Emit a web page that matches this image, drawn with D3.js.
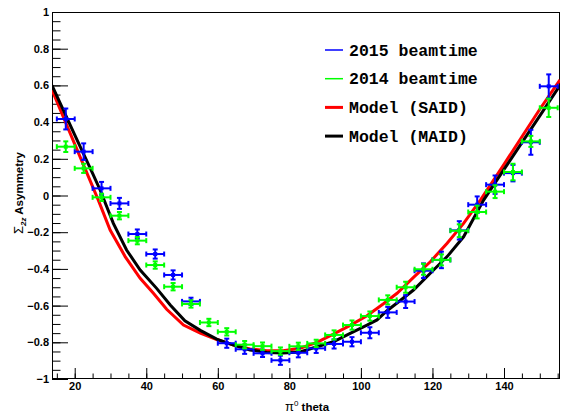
<!DOCTYPE html>
<html>
<head>
<meta charset="utf-8">
<script src="https://cdn.jsdelivr.net/npm/d3@7"></script>
<style>
  body { margin: 0; background: #fff; }
  svg { display: block; }
</style>
</head>
<body>
<svg id="chart" width="561" height="412"></svg>
<script>
// pi0 beam asymmetry vs. pi0 polar angle
const thetaBins = [17.5, 22.5, 27.5, 32.5, 37.5, 42.5, 47.5, 52.5, 57.5, 62.5, 67.5, 72.5, 77.5, 82.5,
  87.5, 92.5, 97.5, 102.5, 107.5, 112.5, 117.5, 122.5, 127.5, 132.5, 137.5, 142.5, 147.5, 152.5];
const binHalfWidth = 2.5;

const values2015 = [0.417, 0.239, 0.039, -0.043, -0.21, -0.319, -0.433, -0.577, null, -0.805, -0.838, -0.86, -0.898, -0.857,
  -0.833, -0.809, -0.797, -0.748, -0.637, -0.578, -0.41, -0.351, -0.19, -0.05, 0.059, 0.122, 0.29, 0.595];
const errors2015 = [0.057, 0.045, 0.035, 0.03, 0.025, 0.025, 0.025, 0.02, null, 0.025, 0.025, 0.02, 0.025, 0.025,
  0.025, 0.025, 0.025, 0.03, 0.03, 0.035, 0.04, 0.045, 0.05, 0.045, 0.05, 0.045, 0.068, 0.065];

const values2014 = [0.266, 0.148, -0.01, -0.11, -0.246, -0.379, -0.497, -0.591, -0.692, -0.743, -0.813, -0.821, -0.848, -0.822,
  -0.806, -0.76, -0.706, -0.657, -0.569, -0.5, -0.402, -0.351, -0.192, -0.09, 0.021, 0.128, 0.295, 0.478];
const errors2014 = [0.029, 0.025, 0.02, 0.02, 0.02, 0.02, 0.02, 0.02, 0.02, 0.02, 0.02, 0.02, 0.02, 0.02,
  0.02, 0.025, 0.025, 0.025, 0.025, 0.03, 0.03, 0.03, 0.035, 0.035, 0.035, 0.045, 0.03, 0.05];

const saidTheta = [13.65, 20, 26.6, 29.9, 34.1, 38.3, 42.0, 45.7, 50.4, 55.1, 59.7, 64.4, 69.0, 73.7, 78.3, 83.0,
  87.7, 92.3, 97.0, 101.7, 106.3, 110.1, 114.7, 119.4, 124.1, 128.7, 133.4, 140, 145, 150, 155.65];
const saidValues = [0.575, 0.28, -0.025, -0.188, -0.333, -0.451, -0.533, -0.62, -0.706, -0.75, -0.785, -0.815, -0.836, -0.846, -0.846, -0.832,
  -0.80, -0.755, -0.708, -0.655, -0.59, -0.533, -0.446, -0.361, -0.26, -0.152, -0.025, 0.17, 0.32, 0.47, 0.63];

const maidTheta = [13.65, 20, 25, 27.1, 30.8, 34.5, 38.3, 42.9, 46.7, 50.8, 55.1, 59.7, 64.4, 69.0, 73.7, 78.3, 83.0,
  87.7, 92.3, 97.0, 101.7, 104.5, 107.3, 111.0, 114.7, 119.4, 124.1, 128.7, 134.3, 140, 145, 150, 155.65];
const maidValues = [0.60, 0.33, 0.12, 0.03, -0.152, -0.297, -0.406, -0.506, -0.597, -0.683, -0.735, -0.783, -0.815, -0.842, -0.855, -0.858, -0.853,
  -0.824, -0.797, -0.751, -0.706, -0.678, -0.628, -0.572, -0.515, -0.424, -0.333, -0.225, -0.025, 0.142, 0.288, 0.434, 0.60];

const xTicks = [20, 40, 60, 80, 100, 120, 140];
const xMinorTicks = d3.range(15, 156, 5);
const yTicks = [-1, -0.8, -0.6, -0.4, -0.2, 0, 0.2, 0.4, 0.6, 0.8, 1];
const yMinorTicks = d3.range(-1, 1.001, 0.05);

const legendLabels = ["2015 beamtime", "2014 beamtime", "Model (SAID)", "Model (MAID)"];
const legendColors = ["#0000ff", "#00ff00", "#ff0000", "#000000"];

const width = 561, height = 412;
const margin = { top: 12, right: 1, bottom: 33, left: 52 };

const svg = d3.select("#chart");

const x = d3.scaleLinear().domain([13.65, 155.65]).range([margin.left, width - margin.right]);
const y = d3.scaleLinear().domain([-1, 1]).range([height - margin.bottom, margin.top]);

svg.append("defs").append("clipPath").attr("id", "frame")
  .append("rect")
  .attr("x", margin.left).attr("y", margin.top)
  .attr("width", width - margin.left - margin.right)
  .attr("height", height - margin.top - margin.bottom);

// frame
svg.append("rect")
  .attr("x", margin.left + 0.5).attr("y", margin.top + 0.5)
  .attr("width", width - margin.left - margin.right - 1)
  .attr("height", height - margin.top - margin.bottom - 1)
  .attr("fill", "none").attr("stroke", "#000").attr("stroke-width", 1);

const tickFont = "'Liberation Sans', Arial, sans-serif";

// x axis
const gx = svg.append("g").attr("transform", `translate(0,${height - margin.bottom})`);
gx.call(d3.axisBottom(x).tickValues(xMinorTicks).tickFormat("").tickSize(-5.5));
gx.append("g").call(d3.axisBottom(x).tickValues(xTicks).tickSize(-11).tickPadding(3));
gx.selectAll(".domain").remove();
gx.selectAll("text").attr("font-family", tickFont).attr("font-weight", "bold").attr("font-size", 11).attr("fill", "#000");

// y axis
const gy = svg.append("g").attr("transform", `translate(${margin.left},0)`);
gy.call(d3.axisLeft(y).tickValues(yMinorTicks).tickFormat("").tickSize(-8.5));
gy.append("g").call(d3.axisLeft(y).tickValues(yTicks).tickSize(-16).tickPadding(3).tickFormat(d3.format("~g")));
gy.selectAll(".domain").remove();
gy.selectAll("text").attr("font-family", tickFont).attr("font-weight", "bold").attr("font-size", 11).attr("fill", "#000");

// axis titles
svg.append("text")
  .attr("x", 307).attr("y", 410.5)
  .attr("text-anchor", "middle")
  .attr("font-family", tickFont).attr("font-weight", "bold").attr("font-size", 11.5)
  .call(t => {
    t.append("tspan").attr("font-weight", "normal").attr("font-size", 13).text("π");
    t.append("tspan").attr("dy", -5).attr("font-size", 8).attr("font-weight", "normal").text("0");
    t.append("tspan").attr("dy", 5).text(" theta");
  });

svg.append("text")
  .attr("transform", "translate(22.5,193) rotate(-90)")
  .attr("text-anchor", "middle")
  .attr("font-family", tickFont).attr("font-weight", "bold").attr("font-size", 11.5)
  .call(t => {
    t.append("tspan").attr("font-weight", "normal").attr("font-size", 13).text("Σ");
    t.append("tspan").attr("dy", 3).attr("font-size", 8).attr("font-style", "italic").text("2z");
    t.append("tspan").attr("dy", -3).text(" Asymmetry");
  });

// model curves
const plot = svg.append("g").attr("clip-path", "url(#frame)");
const line = d3.line().x(d => x(d[0])).y(d => y(d[1]));

plot.append("path")
  .datum(d3.zip(saidTheta, saidValues))
  .attr("d", line).attr("fill", "none").attr("stroke", legendColors[2]).attr("stroke-width", 3);
plot.append("path")
  .datum(d3.zip(maidTheta, maidValues))
  .attr("d", line).attr("fill", "none").attr("stroke", legendColors[3]).attr("stroke-width", 3);

// data points with error bars
function drawSeries(vals, errs, color) {
  const pts = thetaBins.map((t, i) => ({ t, v: vals[i], e: errs[i] })).filter(d => d.v !== null);
  const g = plot.append("g").attr("stroke", color).attr("stroke-width", 2).attr("fill", color);
  const pt = g.selectAll("g").data(pts).join("g");
  pt.append("line")
    .attr("x1", d => x(d.t - binHalfWidth)).attr("x2", d => x(d.t + binHalfWidth))
    .attr("y1", d => y(d.v)).attr("y2", d => y(d.v));
  pt.append("line")
    .attr("x1", d => x(d.t)).attr("x2", d => x(d.t))
    .attr("y1", d => y(d.v - d.e)).attr("y2", d => y(d.v + d.e));
  // end caps
  [-binHalfWidth, binHalfWidth].forEach(dx => {
    pt.append("line")
      .attr("x1", d => x(d.t + dx)).attr("x2", d => x(d.t + dx))
      .attr("y1", d => y(d.v) - 2.5).attr("y2", d => y(d.v) + 2.5);
  });
  [-1, 1].forEach(s => {
    pt.append("line")
      .attr("x1", d => x(d.t) - 2.5).attr("x2", d => x(d.t) + 2.5)
      .attr("y1", d => y(d.v + s * d.e)).attr("y2", d => y(d.v + s * d.e));
  });
  pt.append("rect")
    .attr("x", d => x(d.t) - 2).attr("y", d => y(d.v) - 2)
    .attr("width", 4).attr("height", 4).attr("stroke", "none");
}
drawSeries(values2015, errors2015, legendColors[0]);
drawSeries(values2014, errors2014, legendColors[1]);

// legend
const legend = svg.append("g");
const rows = legend.selectAll("g").data(legendLabels).join("g")
  .attr("transform", (d, i) => `translate(325,${50 + i * 28.7})`);
rows.append("line")
  .attr("x1", 0).attr("x2", 18)
  .attr("stroke", (d, i) => legendColors[i])
  .attr("stroke-width", (d, i) => i < 2 ? 1.5 : 3);
rows.append("text")
  .attr("x", 24).attr("dy", "0.35em")
  .attr("font-family", "'Liberation Mono', 'Courier New', monospace")
  .attr("font-weight", "bold").attr("font-size", 16.5)
  .text(d => d);
</script>
</body>
</html>
